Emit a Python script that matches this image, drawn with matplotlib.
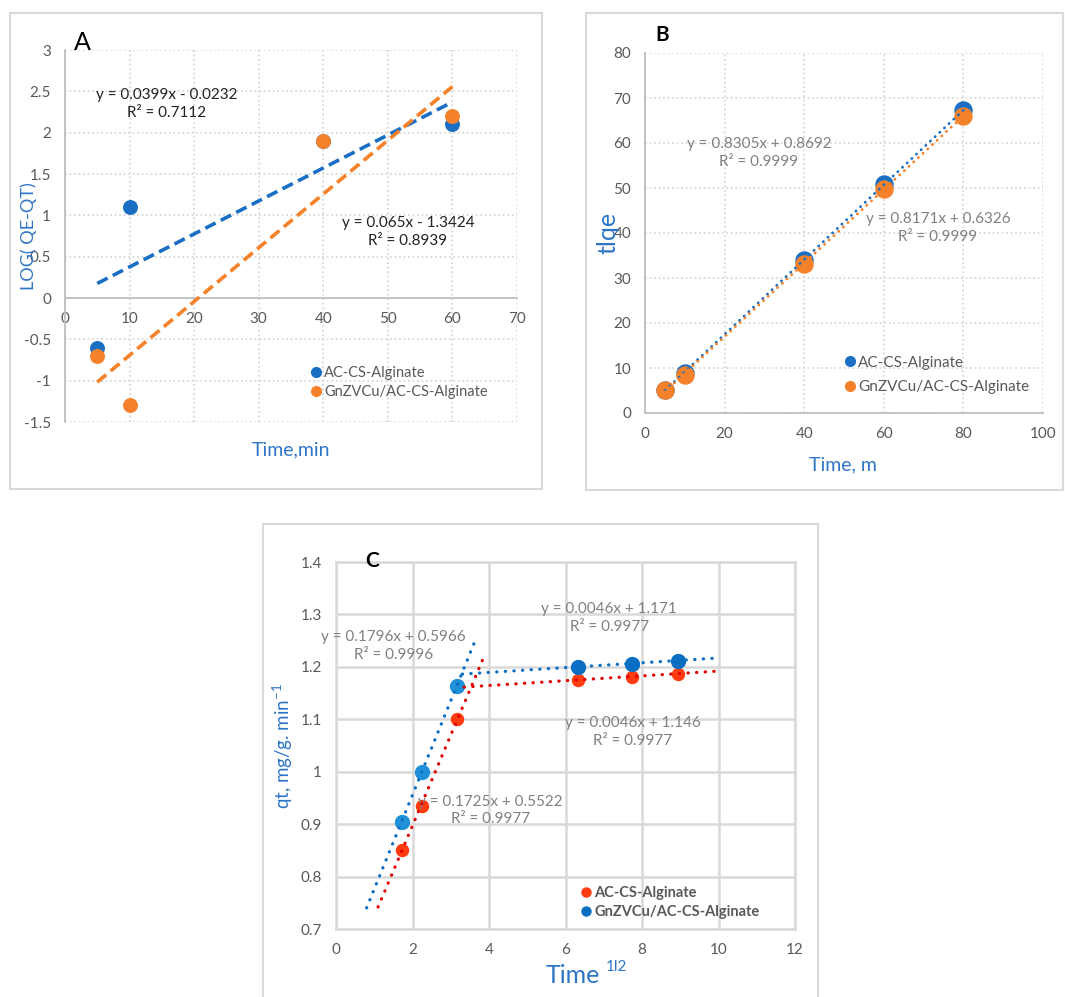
import numpy as np
import matplotlib
matplotlib.use("Agg")
import matplotlib.pyplot as plt
from matplotlib.patches import Rectangle
from matplotlib.lines import Line2D
from matplotlib.ticker import FuncFormatter

plt.rcParams.update({'font.family': ['Lato', 'DejaVu Sans'], 'font.size': 10.5,
                     'axes.unicode_minus': False,
                     'mathtext.fontset': 'custom', 'mathtext.rm': 'Lato',
                     'mathtext.default': 'regular'})

W, H = 1065, 997

# ---- data, panel A (pseudo-first order) ----
time_a = [5, 10, 40, 60]
log_ac = [-0.6, 1.1, 1.9, 2.1]
log_gn = [-0.7, -1.3, 1.9, 2.2]
fit_a_ac = (0.0399, -0.0232, 0.7112)
fit_a_gn = (0.065, -1.3424, 0.8939)

# ---- data, panel B (pseudo-second order) ----
time_b = [5, 10, 40, 60, 80]
tq_ac = [5.2, 8.9, 34.0, 50.9, 67.3]
tq_gn = [5.1, 8.5, 33.2, 49.7, 66.0]
fit_b_ac = (0.8305, 0.8692, 0.9999)
fit_b_gn = (0.8171, 0.6326, 0.9999)

# ---- data, panel C (intraparticle diffusion) ----
t_half_1 = [1.732, 2.236, 3.162]
t_half_2 = [6.325, 7.746, 8.944]
qt_ac_1 = [0.85, 0.935, 1.10]
qt_ac_2 = [1.175, 1.18, 1.186]
qt_gn_1 = [0.905, 1.0, 1.163]
qt_gn_2 = [1.20, 1.205, 1.212]
fit_c_ac_1 = (0.1725, 0.5522, 0.9977)
fit_c_ac_2 = (0.0046, 1.146, 0.9977)
fit_c_gn_1 = (0.1796, 0.5966, 0.9996)
fit_c_gn_2 = (0.0046, 1.171, 0.9977)

BLUE = "#1a6fc4"
ORANGE = "#f5822a"
GRID = "#d9d9d9"
TICK = "#595959"
EQ_GRAY = "#808080"
LAB_BLUE = "#2e75c6"


def fx(x):
    return x / W


def fy(y):
    return 1 - y / H


def eq_text(fit):
    m, b, r2 = fit
    sign = "-" if b < 0 else "+"
    return "y = %gx %s %g\nR² = %g" % (m, sign, abs(b), r2)


def trend(ax, fit, x0, x1, **kw):
    xx = np.array([x0, x1])
    ax.plot(xx, fit[0] * xx + fit[1], **kw)


fmt = FuncFormatter(lambda v, p: "%g" % round(v, 3))

fig = plt.figure(figsize=(W / 100, H / 100), dpi=100)

# panel frames
for (x0, y0, x1, y1) in [(10, 13, 542, 489), (586, 13, 1063, 490), (263, 524, 818, 1000)]:
    fig.add_artist(Rectangle((fx(x0), fy(y1)), fx(x1 - x0), (y1 - y0) / H,
                             transform=fig.transFigure, fill=False,
                             ec=GRID, lw=1.5))

# =========================================================================
# PANEL A
# =========================================================================
ax = fig.add_axes([fx(65), fy(422), fx(517 - 65), (422 - 50) / H])
ax.set_xlim(0, 70)
ax.set_ylim(-1.5, 3)
ax.set_xticks(np.arange(0, 71, 10))
ax.set_yticks(np.arange(-1.5, 3.01, 0.5))
ax.grid(True, color=GRID, ls=(0, (1, 1.5)), lw=1.3)
for s in ["top", "right"]:
    ax.spines[s].set_visible(False)
ax.spines["left"].set_color("#bfbfbf")
ax.spines["bottom"].set_position(("data", 0))
ax.spines["bottom"].set_color("#bfbfbf")
ax.spines["left"].set_linewidth(1.3)
ax.spines["bottom"].set_linewidth(1.3)
ax.tick_params(length=0, pad=10, labelsize=11, colors=TICK)
ax.yaxis.set_major_formatter(fmt)

ax.scatter(time_a, log_ac, s=95, color=BLUE, zorder=3)
ax.scatter(time_a, log_gn, s=95, color=ORANGE, zorder=3)
trend(ax, fit_a_ac, min(time_a), max(time_a), color=BLUE, lw=2.6,
      ls=(0, (3.2, 1.6)), zorder=4)
trend(ax, fit_a_gn, min(time_a), max(time_a), color=ORANGE, lw=2.6,
      ls=(0, (3.2, 1.6)), zorder=4)

ax.text(15.8, 2.35, eq_text(fit_a_ac), ha="center", va="center",
        multialignment="center", color="#222222", fontsize=11, linespacing=1.35)
ax.text(53.1, 0.80, eq_text(fit_a_gn), ha="center", va="center",
        multialignment="center", color="#222222", fontsize=11, linespacing=1.35)

fig.text(fx(82), fy(42), "A", ha="center", va="center", fontsize=18)
fig.text(fx(29), fy(236), "LOG( QE-QT)", rotation=90, ha="center", va="center",
         fontsize=13, color=LAB_BLUE)
fig.text(fx(291), fy(450), "Time,min", ha="center", va="center",
         fontsize=14, color=LAB_BLUE)

hA = [Line2D([], [], marker="o", ls="", color=BLUE, markersize=7),
      Line2D([], [], marker="o", ls="", color=ORANGE, markersize=7)]
ax.legend(hA, ["AC-CS-Alginate", "GnZVCu/AC-CS-Alginate"], loc="upper left",
          bbox_to_anchor=(fx(304), fy(359)), bbox_transform=fig.transFigure,
          frameon=False, borderpad=0, handlelength=0.7, handletextpad=0.2,
          labelspacing=0.35, fontsize=10.5, labelcolor=TICK)

# =========================================================================
# PANEL B
# =========================================================================
ax = fig.add_axes([fx(645), fy(413), fx(1043 - 645), (413 - 53) / H])
ax.set_xlim(0, 100)
ax.set_ylim(0, 80)
ax.set_xticks(np.arange(0, 101, 20))
ax.set_yticks(np.arange(0, 81, 10))
ax.grid(True, color=GRID, ls=(0, (1, 1.5)), lw=1.3)
for s in ["top", "right"]:
    ax.spines[s].set_visible(False)
for s in ["left", "bottom"]:
    ax.spines[s].set_color("#bfbfbf")
    ax.spines[s].set_linewidth(1.3)
ax.tick_params(length=0, pad=10, labelsize=11, colors=TICK)

ax.scatter(time_b, tq_ac, s=150, color=BLUE, zorder=3)
ax.scatter(time_b, tq_gn, s=150, color=ORANGE, zorder=3)
trend(ax, fit_b_ac, min(time_b), max(time_b), color=BLUE, lw=2.0,
      ls=(0, (0.1, 2.2)), dash_capstyle="round", zorder=4)
trend(ax, fit_b_gn, min(time_b), max(time_b), color=ORANGE, lw=2.0,
      ls=(0, (0.1, 2.2)), dash_capstyle="round", zorder=4)

ax.text(28.6, 57.7, eq_text(fit_b_ac), ha="center", va="center",
        multialignment="center", color=EQ_GRAY, fontsize=11, linespacing=1.35)
ax.text(73.6, 41.2, eq_text(fit_b_gn), ha="center", va="center",
        multialignment="center", color=EQ_GRAY, fontsize=11, linespacing=1.35)

fig.text(fx(662), fy(35), "B", ha="center", va="center", fontsize=15,
         fontweight="bold")
fig.text(fx(608), fy(233), "tlqe", rotation=90, ha="center", va="center",
         fontsize=18, color=LAB_BLUE)
fig.text(fx(843), fy(465), "Time, m", ha="center", va="center",
         fontsize=14, color=LAB_BLUE)

hB = [Line2D([], [], marker="o", ls="", color=BLUE, markersize=7),
      Line2D([], [], marker="o", ls="", color=ORANGE, markersize=7)]
ax.legend(hB, ["AC-CS-Alginate", "GnZVCu/AC-CS-Alginate"], loc="upper left",
          bbox_to_anchor=(fx(837), fy(348)), bbox_transform=fig.transFigure,
          frameon=False, borderpad=0, handlelength=0.7, handletextpad=0.2,
          labelspacing=0.7, fontsize=11, labelcolor=TICK)

# =========================================================================
# PANEL C
# =========================================================================
RED_PT = "#ff3c0f"
RED_LN = "#e00000"
BLUE_PT1 = "#2090d8"
BLUE_PT2 = "#0a6ec2"
BLUE_LN = "#0a6ec2"

ax = fig.add_axes([fx(336), fy(929), fx(795 - 336), (929 - 562) / H])
ax.set_xlim(0, 12)
ax.set_ylim(0.7, 1.4)
ax.set_xticks(np.arange(0, 13, 2))
ax.set_yticks(np.arange(0.7, 1.401, 0.1))
ax.grid(True, color=GRID, lw=1.8)
for s in ax.spines.values():
    s.set_color(GRID)
    s.set_linewidth(1.8)
ax.tick_params(length=0, pad=10, labelsize=11, colors=TICK)
ax.yaxis.set_major_formatter(fmt)

ax.scatter(t_half_1, qt_ac_1, s=75, color=RED_PT, zorder=3)
ax.scatter(t_half_2, qt_ac_2, s=75, color=RED_PT, zorder=3)
ax.scatter(t_half_1, qt_gn_1, s=100, color=BLUE_PT1, zorder=3)
ax.scatter(t_half_2, qt_gn_2, s=100, color=BLUE_PT2, zorder=3)

dots = dict(lw=2.3, ls=(0, (0.1, 2.6)), dash_capstyle="round", zorder=4)
trend(ax, fit_c_gn_1, 0.8, 3.65, color=BLUE_LN, **dots)
trend(ax, fit_c_ac_1, 1.1, 3.85, color=RED_LN, **dots)
trend(ax, fit_c_gn_2, 3.3, 9.85, color=BLUE_LN, **dots)
trend(ax, fit_c_ac_2, 3.35, 9.9, color=RED_LN, **dots)

ax.text(7.14, 1.293, eq_text(fit_c_gn_2), ha="center", va="center",
        multialignment="center", color=EQ_GRAY, fontsize=11, linespacing=1.35)
ax.text(1.50, 1.240, eq_text(fit_c_gn_1), ha="center", va="center",
        multialignment="center", color=EQ_GRAY, fontsize=11, linespacing=1.35)
ax.text(7.75, 1.0765, eq_text(fit_c_ac_2), ha="center", va="center",
        multialignment="center", color=EQ_GRAY, fontsize=11, linespacing=1.35)
ax.text(4.04, 0.926, eq_text(fit_c_ac_1), ha="center", va="center",
        multialignment="center", color=EQ_GRAY, fontsize=11, linespacing=1.35)

fig.text(fx(372), fy(561), "C", ha="center", va="center", fontsize=15,
         fontweight="bold")
fig.text(fx(283), fy(746), "qt, mg/g. min$^{-1}$", rotation=90, ha="center",
         va="center", fontsize=13.5, color=LAB_BLUE)
fig.text(fx(546), fy(983), "Time", ha="left", va="baseline", fontsize=18,
         color=LAB_BLUE)
fig.text(fx(606), fy(971), "1l2", ha="left", va="baseline", fontsize=11,
         color=LAB_BLUE)

hC = [Line2D([], [], marker="o", ls="", color=RED_PT, markersize=6.5),
      Line2D([], [], marker="o", ls="", color=BLUE_PT2, markersize=6.5)]
ax.legend(hC, ["AC-CS-Alginate", "GnZVCu/AC-CS-Alginate"], loc="upper left",
          bbox_to_anchor=(fx(574), fy(879)), bbox_transform=fig.transFigure,
          frameon=False, borderpad=0, handlelength=0.7, handletextpad=0.2,
          labelspacing=0.3, prop={"weight": "bold", "size": 10.5},
          labelcolor=TICK)

fig.savefig("out.png", dpi=100)
